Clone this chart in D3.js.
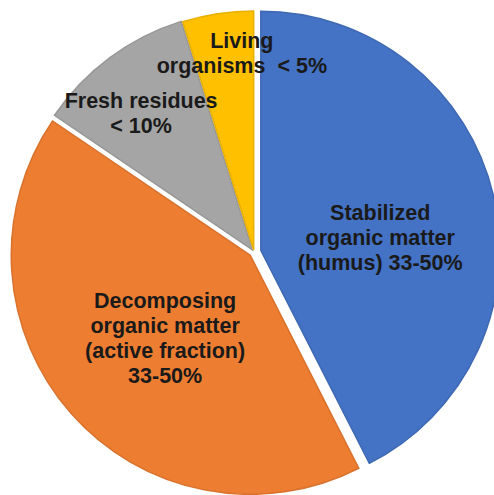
<!DOCTYPE html>
<html>
<head>
<meta charset="utf-8">
<script src="https://cdn.jsdelivr.net/npm/d3@7"></script>
<style>
  body { margin: 0; background: white; }
  svg { display: block; }
  .lbl { font-family: "Liberation Sans", Arial, sans-serif; font-weight: bold; font-size: 21.5px; fill: #1a1a1a; white-space: pre; }
</style>
</head>
<body>
<div id="chart"></div>
<script>

// slice data
const categories = ["Stabilized organic matter", "Decomposing organic matter", "Fresh residues", "Living organisms"];
const shares = [42.5, 42, 10.7, 4.8];
const labelLines = [
    ["Stabilized", "organic matter", "(humus) 33-50%"],
    ["Decomposing", "organic matter", "(active fraction)", "33-50%"],
    ["Fresh residues", "< 10%"],
    ["Living", "organisms  < 5%"]
];
const colors = ["#4472C4", "#ED7D31", "#A5A5A5", "#FFC000"];

class PieVis {

    constructor(parentElement) {
        this.parentElement = parentElement;
        this.initVis();
    }

    initVis() {
        let vis = this;

        vis.width = 494;
        vis.height = 495;
        vis.cx = 254;
        vis.cy = 252;
        vis.radius = 239;

        vis.svg = d3.select("#" + vis.parentElement).append("svg")
            .attr("width", vis.width)
            .attr("height", vis.height);

        vis.g = vis.svg.append("g")
            .attr("transform", `translate(${vis.cx}, ${vis.cy})`);

        // explode distance per slice, label placement (polar, degrees from top)
        vis.explode = [7, 5, 3, 2];
        vis.labelPolar = [
            {angle: 83.7, r: 127},
            {angle: 225.8, r: 124},
            {angle: 320.9, r: 179},
            {angle: 356.5, r: 199}
        ];

        vis.pie = d3.pie().sort(null).value(d => d);
        vis.arc = d3.arc().innerRadius(0).outerRadius(vis.radius);

        vis.wrangleData();
    }

    wrangleData() {
        let vis = this;
        vis.arcs = vis.pie(shares);
        vis.updateVis();
    }

    updateVis() {
        let vis = this;

        // slices
        vis.g.selectAll(".slice")
            .data(vis.arcs)
            .enter()
            .append("path")
            .attr("class", "slice")
            .attr("d", vis.arc)
            .attr("fill", (d, i) => colors[i])
            .attr("stroke", (d, i) => d3.color(colors[i]).darker(0.25))
            .attr("stroke-width", 1.5)
            .attr("transform", (d, i) => {
                let mid = (d.startAngle + d.endAngle) / 2;
                return `translate(${Math.sin(mid) * vis.explode[i]}, ${-Math.cos(mid) * vis.explode[i]})`;
            });

        // labels
        let lineH = 25;
        labelLines.forEach((lines, i) => {
            let p = vis.labelPolar[i];
            let a = p.angle * Math.PI / 180;
            let x = Math.sin(a) * p.r;
            let y = -Math.cos(a) * p.r;
            let top = y - (lines.length - 1) * lineH / 2 + 7;
            let t = vis.g.append("text")
                .attr("class", "lbl")
                .attr("text-anchor", "middle");
            lines.forEach((ln, j) => {
                t.append("tspan")
                    .attr("x", x)
                    .attr("y", top + j * lineH)
                    .text(ln);
            });
        });
    }
}

new PieVis("chart");
</script>
</body>
</html>
